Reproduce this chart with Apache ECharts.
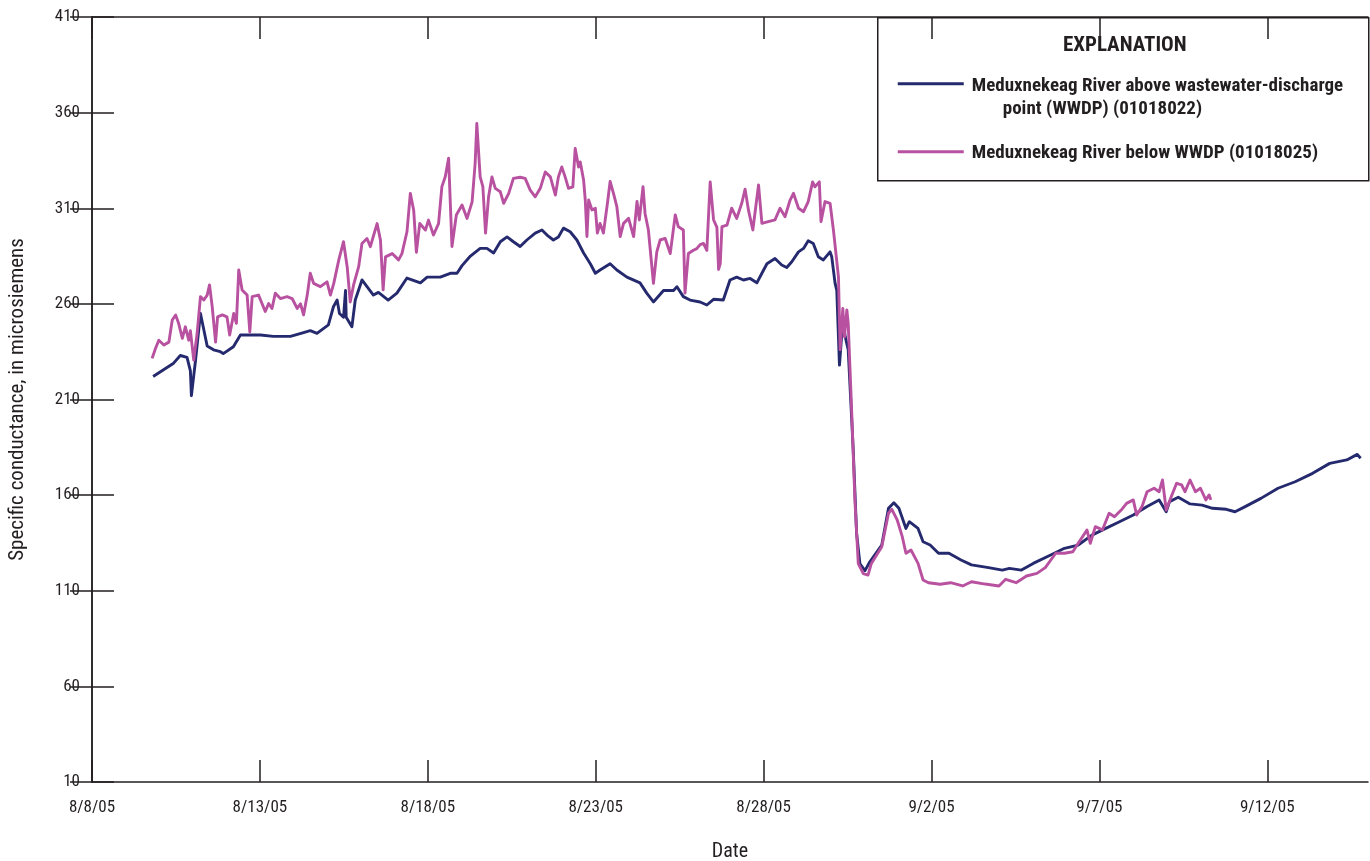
<!DOCTYPE html>
<html>
<head>
<meta charset="utf-8">
<title>Specific conductance, Meduxnekeag River</title>
<script src="https://cdn.jsdelivr.net/npm/echarts@6/dist/echarts.min.js"></script>
<style>
  html, body { margin: 0; padding: 0; background: #fff; }
  #chart { width: 1370px; height: 861px; }
</style>
</head>
<body>
<div id="chart"></div>
<script>
// Days elapsed since 8/8/05 00:00 and specific conductance (microsiemens).
const aboveDays = [1.82,2.43,2.63,2.83,2.93,2.96,3.08,3.23,3.43,3.62,3.82,3.91,4.21,4.42,5.02,5.40,5.91,6.30,6.50,6.70,7.04,7.19,7.30,7.37,7.49,7.55,7.57,7.74,7.84,8.04,8.38,8.53,8.82,9.08,9.38,9.78,9.98,10.37,10.67,10.87,11.02,11.27,11.56,11.76,11.96,12.16,12.36,12.55,12.75,12.95,13.20,13.40,13.55,13.74,13.89,14.04,14.24,14.44,14.64,14.84,14.99,15.13,15.43,15.63,15.93,16.32,16.52,16.72,17.02,17.32,17.42,17.61,17.81,18.11,18.31,18.51,18.80,19.00,19.20,19.40,19.60,19.80,19.95,20.10,20.34,20.54,20.69,20.84,21.04,21.19,21.33,21.48,21.63,21.78,21.98,22.03,22.13,22.18,22.26,22.36,22.43,22.52,22.67,22.77,22.87,23.02,23.16,23.52,23.72,23.88,24.03,24.24,24.34,24.60,24.75,24.96,25.21,25.52,25.88,26.19,26.70,27.11,27.32,27.68,28.03,28.55,28.96,29.37,29.78,30.19,30.60,31.01,31.42,31.78,31.99,32.09,32.35,32.70,33.06,33.37,33.78,34.04,34.30,34.81,35.32,35.83,36.35,36.86,37.37,37.68,37.78];
const aboveValues = [222,229,233,232,225,212,230,255,238,236,235,234,237.6,243.7,243.7,243,243,245,246,244.6,249,258.5,262,255,253,267,253,248,262,272.5,264.6,266,262,265.6,273.5,271,274,274,276,276,280,285,289,289,286.6,292.5,295,292.5,290,293.4,297,298.6,296,293.4,295,299.6,297.7,293.4,286.6,281,276,277.7,281,277.7,274,271,265.6,261,267,267,269,263.8,262,261,259.4,262.4,262,272.5,274,272.5,273.3,271,276,281,283.7,280.3,279,282,287.2,289,293,291.6,284.6,283,287.2,284.6,270.7,267,228,251.6,243,236,183.6,140,124,120.5,125,133.9,153.1,156,153.1,142.6,146.1,142.6,135.6,133.9,129.6,129.6,126.1,123.5,122.1,120.8,121.7,120.8,124.3,128.7,132.2,133.9,139.1,142.6,146.1,149.6,154,157.5,151.3,156.6,158.9,155.4,154.8,153.1,152.6,151.3,153.6,158.3,163.6,167,171.4,176.6,178.4,181.3,179.3];

const belowDays = [1.79,1.89,1.99,2.14,2.29,2.39,2.49,2.58,2.69,2.78,2.88,2.93,3.03,3.13,3.23,3.33,3.43,3.50,3.58,3.68,3.74,3.88,4.02,4.10,4.22,4.30,4.37,4.47,4.62,4.70,4.77,4.96,5.16,5.26,5.36,5.46,5.61,5.81,5.96,6.11,6.21,6.30,6.41,6.50,6.60,6.80,7.00,7.10,7.20,7.35,7.49,7.60,7.69,7.79,7.94,8.04,8.19,8.29,8.39,8.49,8.59,8.67,8.74,8.94,9.13,9.23,9.38,9.48,9.58,9.66,9.76,9.93,10.02,10.17,10.32,10.42,10.52,10.62,10.72,10.85,11.02,11.17,11.32,11.41,11.46,11.56,11.64,11.72,11.81,11.91,12.01,12.16,12.26,12.41,12.55,12.75,12.90,13.05,13.20,13.35,13.50,13.65,13.80,13.89,13.99,14.09,14.19,14.32,14.39,14.49,14.54,14.64,14.69,14.74,14.79,14.89,14.99,15.05,15.13,15.23,15.35,15.43,15.53,15.63,15.73,15.83,15.98,16.13,16.23,16.30,16.41,16.47,16.57,16.72,16.82,16.92,17.07,17.22,17.37,17.46,17.61,17.66,17.76,17.91,18.01,18.11,18.21,18.31,18.41,18.51,18.61,18.66,18.71,18.76,18.91,19.05,19.20,19.35,19.45,19.55,19.68,19.85,19.95,20.14,20.34,20.49,20.64,20.79,20.89,21.04,21.19,21.33,21.46,21.53,21.66,21.71,21.83,21.98,22.08,22.13,22.23,22.28,22.36,22.41,22.48,22.52,22.63,22.72,22.82,22.97,23.11,23.21,23.52,23.72,23.82,23.98,24.13,24.24,24.39,24.60,24.75,24.91,25.26,25.57,25.93,26.19,26.60,27.01,27.21,27.52,27.83,28.14,28.39,28.70,28.96,29.21,29.37,29.63,29.73,29.88,30.09,30.29,30.45,30.65,30.81,31.01,31.11,31.27,31.42,31.63,31.78,31.88,31.99,32.14,32.30,32.45,32.55,32.70,32.86,33.01,33.17,33.27,33.32];
const belowValues = [231.5,236.7,241,238.5,240,251.6,254.2,249.8,242,248,241,246,230.6,244.5,263.8,262,264.6,269.9,258.5,240,253.2,254.2,253.2,243.7,255,249.8,277.7,267.3,264.6,245.3,263.8,264.6,256,260.2,257.6,265.6,262.8,263.8,262.8,257.6,260,254.2,264.6,276,270.7,269,271.5,264.6,270.7,283,292.5,279.3,261,269.9,279.3,291.6,294.2,289.9,296,302,293.4,267.3,284.6,286.3,283,286.3,297.7,317.8,309,287,302,298.6,303.8,296,302,321.3,326.5,336.2,290,306.5,311.7,304.7,313.3,333.4,354.3,326.4,321.3,297,316,326.4,320.4,318.6,312.6,317.8,325.6,326.2,325.6,319.5,316,320.4,329,326.4,316.9,326.4,331.6,326.4,320.4,321.2,341.3,331.6,334.2,324.8,314.3,295.2,314.3,309.1,310,297,302.1,297,312.6,324,317.8,310.9,295.2,302.1,304.7,295.2,313.5,303.9,321.3,307.3,298.6,270.7,287.2,293.4,294.2,286.3,306.5,300.4,298.6,265.6,286.3,288,288.9,291,291.6,288,323.8,304,300,278,281.1,300.4,301.2,310,304.7,312.6,320,309,298.6,322.2,302.1,303,303.9,310,305.6,314.3,317.8,310,308.2,313.5,323.8,321.2,323.8,303,313.5,312.6,298.6,297.7,274.1,236,257.6,242.8,256.8,249.8,201,157.4,124.2,119,118.2,124.3,133,150.5,152.6,147,138.3,129.6,131.3,124.3,115.6,114.2,113.4,114.2,112.5,114.7,113.5,112.5,116,114.2,117.7,119.1,122.1,129.6,129.6,130.4,134.8,141.8,134.8,143.5,141.8,150.5,148.7,152.2,155.7,157.5,149.6,154,161.8,163.6,161.8,167.9,152.2,159.2,166.2,165.3,161.8,167.9,161.8,163.6,157.5,160.1,157.5];

// Axis ticks: days since 8/8/05 every five days, conductance every 50.
const dayTicks = [0, 5, 10, 15, 20, 25, 30, 35];
const valueTicks = [10, 60, 110, 160, 210, 260, 310, 360, 410];

const seriesNames = [
  'Meduxnekeag River above wastewater-discharge point (WWDP) (01018022)',
  'Meduxnekeag River below WWDP (01018025)'
];
const legendLines = [
  ['Meduxnekeag River above wastewater-discharge', 'point (WWDP) (01018022)'],
  ['Meduxnekeag River below WWDP (01018025)']
];
const colorAbove = '#252a6e';
const colorBelow = '#b8519f';

const FONT = "'Liberation Sans Narrow', 'Roboto Condensed', 'DejaVu Sans Condensed', 'Arial Narrow', sans-serif";
const INK = '#231f20';

const startMs = Date.UTC(2005, 7, 8);
function dayLabel(d) {
  const dt = new Date(startMs + d * 86400000);
  return (dt.getUTCMonth() + 1) + '/' + dt.getUTCDate() + '/05';
}

const pairs = (xs, ys) => xs.map((x, i) => [x, ys[i]]);

const frameAxis = {
  axisLine: { show: true, lineStyle: { color: INK, width: 1.5 } },
  splitLine: { show: false }
};

const chart = echarts.init(document.getElementById('chart'), null, { renderer: 'canvas' });

chart.setOption({
  backgroundColor: '#ffffff',
  animation: false,
  grid: { left: 92, right: 2, top: 17, bottom: 79, containLabel: false, outerBoundsMode: 'none' },
  xAxis: [
    Object.assign({
      type: 'value', min: 0, max: 38, position: 'bottom',
      name: 'Date', nameLocation: 'middle', nameGap: 60,
      nameTextStyle: { fontFamily: FONT, fontSize: 20, color: INK },
      axisTick: { show: true, inside: true, length: 22, customValues: dayTicks, lineStyle: { color: INK, width: 1.5 } },
      axisLabel: { show: true, customValues: dayTicks, margin: 17, fontFamily: FONT, fontSize: 17, color: INK,
        alignMinLabel: 'center', alignMaxLabel: 'center', formatter: dayLabel }
    }, frameAxis),
    Object.assign({
      type: 'value', min: 0, max: 38, position: 'top',
      axisTick: { show: true, inside: true, length: 22, customValues: dayTicks, lineStyle: { color: INK, width: 1.5 } },
      axisLabel: { show: false }
    }, frameAxis)
  ],
  yAxis: [
    Object.assign({
      type: 'value', min: 10, max: 410, position: 'left',
      name: 'Specific conductance, in microsiemens', nameLocation: 'middle', nameGap: 64,
      nameTextStyle: { fontFamily: FONT, fontSize: 21, color: INK },
      axisTick: { show: true, inside: true, length: 22, customValues: valueTicks, lineStyle: { color: INK, width: 1.5 } },
      axisLabel: { show: true, customValues: valueTicks, margin: 12, fontFamily: FONT, fontSize: 17, color: INK,
        padding: [4, 0, 0, 0],
        verticalAlign: 'middle', verticalAlignMinLabel: 'middle', verticalAlignMaxLabel: 'middle' }
    }, frameAxis),
    Object.assign({
      type: 'value', min: 10, max: 410, position: 'right',
      axisTick: { show: true, inside: true, length: 22, customValues: valueTicks, lineStyle: { color: INK, width: 1.5 } },
      axisLabel: { show: false }
    }, frameAxis)
  ],
  series: [
    {
      name: seriesNames[0], type: 'line', xAxisIndex: 0, yAxisIndex: 0,
      data: pairs(aboveDays, aboveValues),
      showSymbol: false, symbol: 'none',
      lineStyle: { color: colorAbove, width: 2.9, join: 'round' },
      z: 2
    },
    {
      name: seriesNames[1], type: 'line', xAxisIndex: 0, yAxisIndex: 0,
      data: pairs(belowDays, belowValues),
      showSymbol: false, symbol: 'none',
      lineStyle: { color: colorBelow, width: 2.9, join: 'round' },
      z: 3
    }
  ],
  graphic: [
    {
      type: 'group', left: 877, top: 17, z: 100,
      children: [
        { type: 'rect', shape: { x: 0, y: 0, width: 491, height: 163 },
          style: { fill: '#ffffff', stroke: INK, lineWidth: 1.5 } },
        { type: 'text', x: 247, y: 28,
          style: { text: 'EXPLANATION', font: "bold 21px " + FONT, fill: INK, textAlign: 'center', textVerticalAlign: 'middle' } },
        { type: 'line', shape: { x1: 20, y1: 66, x2: 86, y2: 66 },
          style: { stroke: colorAbove, lineWidth: 3 } },
        { type: 'text', x: 94, y: 68,
          style: { text: legendLines[0][0], font: "bold 19px " + FONT, fill: INK, textVerticalAlign: 'middle' } },
        { type: 'text', x: 125, y: 91,
          style: { text: legendLines[0][1], font: "bold 19px " + FONT, fill: INK, textVerticalAlign: 'middle' } },
        { type: 'line', shape: { x1: 20, y1: 134, x2: 86, y2: 134 },
          style: { stroke: colorBelow, lineWidth: 3 } },
        { type: 'text', x: 94, y: 135,
          style: { text: legendLines[1][0], font: "bold 19px " + FONT, fill: INK, textVerticalAlign: 'middle' } }
      ]
    }
  ]
});
</script>
</body>
</html>
